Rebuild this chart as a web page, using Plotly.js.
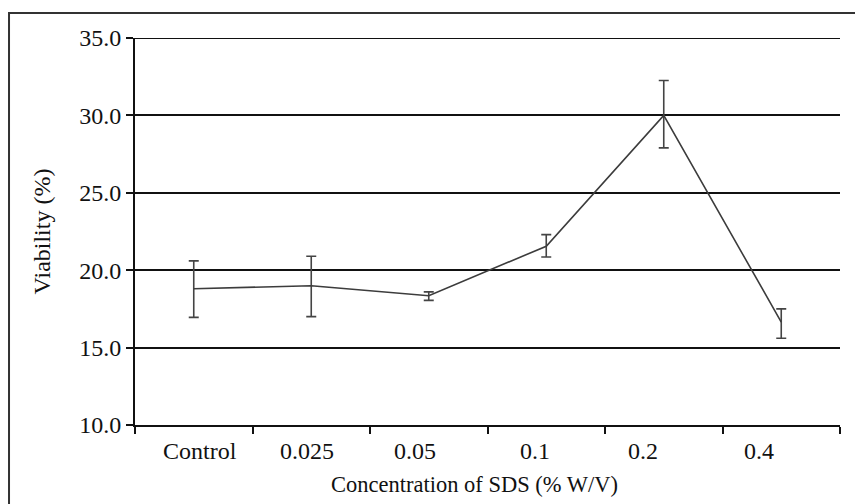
<!DOCTYPE html>
<html>
<head>
<meta charset="utf-8">
<script src="https://cdn.plot.ly/plotly-3.0.1.min.js"></script>
<style>
html,body{margin:0;padding:0;background:#fff;}
#chart{width:855px;height:504px;}
</style>
</head>
<body>
<div id="chart"></div>
<script>
var categories = ["Control", "0.025", "0.05", "0.1", "0.2", "0.4"];
var viability = [18.8, 19.0, 18.35, 21.55, 30.0, 16.65];
var errUpper = [1.8, 1.9, 0.25, 0.75, 2.25, 0.85];
var errLower = [1.85, 2.0, 0.3, 0.7, 2.1, 1.05];
var yTicks = [10, 15, 20, 25, 30, 35];
var yTickText = ["10.0", "15.0", "20.0", "25.0", "30.0", "35.0"];
var xLabelShift = [6, -4, -14, -11, -21, -22];

var family = "'Liberation Serif', 'Times New Roman', serif";
var tickFont = {family: family, size: 24, color: "#111"};
var xTitleFont = {family: family, size: 22.5, color: "#111"};

var trace = {
  type: "scatter",
  mode: "lines",
  x: categories,
  y: viability,
  line: {color: "#3c3c3c", width: 1.6},
  error_y: {
    type: "data",
    symmetric: false,
    array: errUpper,
    arrayminus: errLower,
    color: "#444",
    thickness: 1.6,
    width: 5
  },
  hoverinfo: "skip",
  showlegend: false
};

var annotations = categories.map(function (c, i) {
  return {
    x: i, xref: "x",
    y: 0, yref: "paper",
    text: c,
    showarrow: false,
    xanchor: "center", yanchor: "middle",
    xshift: xLabelShift[i],
    yshift: -26,
    font: tickFont
  };
});
annotations.push({
  x: 0.4816, xref: "paper",
  y: 0, yref: "paper",
  text: "Concentration of SDS (% W/V)",
  showarrow: false,
  xanchor: "center", yanchor: "middle",
  yshift: -59,
  font: xTitleFont
});

var layout = {
  width: 855,
  height: 504,
  margin: {l: 135, r: 15, t: 38, b: 79},
  paper_bgcolor: "#fff",
  plot_bgcolor: "#fff",
  font: tickFont,
  xaxis: {
    type: "category",
    range: [-0.5, 5.5],
    tickson: "boundaries",
    ticks: "outside",
    ticklen: 7,
    tickwidth: 2,
    tickcolor: "#111",
    showline: true,
    linecolor: "#111",
    linewidth: 2,
    showgrid: false,
    zeroline: false,
    showticklabels: false
  },
  yaxis: {
    range: [10, 35],
    tickvals: yTicks,
    ticktext: yTickText,
    ticks: "outside",
    ticklen: 7,
    tickwidth: 2,
    tickcolor: "#111",
    showline: true,
    linecolor: "#111",
    linewidth: 2,
    showgrid: true,
    gridcolor: "#111",
    gridwidth: 2,
    zeroline: false,
    tickfont: tickFont,
    title: {text: "Viability (%)", font: tickFont, standoff: 22}
  },
  annotations: annotations,
  shapes: [{
    type: "line",
    xref: "paper", yref: "y",
    x0: 0, x1: 1, y0: 35, y1: 35,
    line: {color: "#111", width: 2}
  }, {
    type: "rect",
    xref: "paper", yref: "paper",
    x0: -0.1787, x1: 1.03, y0: -0.25, y1: 1.0646,
    line: {color: "#333", width: 2},
    fillcolor: "rgba(0,0,0,0)",
    layer: "below"
  }]
};

Plotly.newPlot("chart", [trace], layout, {displayModeBar: false, staticPlot: true});
</script>
</body>
</html>
